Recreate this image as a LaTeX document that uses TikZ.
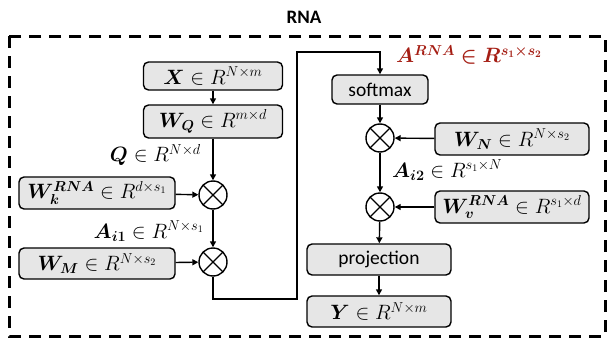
\documentclass[tikz,border=0pt]{standalone}
\usepackage{fontspec}
\usepackage{amsmath,bm}
\setmainfont{Carlito}
\usetikzlibrary{arrows.meta}
\definecolor{boxgray}{RGB}{230,230,230}
\definecolor{rnared}{RGB}{165,30,20}
\tikzset{
  blk/.style={draw=black, line width=1.4pt, fill=boxgray, rounded corners=5pt,
    inner sep=0pt, align=center, font=\fontsize{20.5}{24}\selectfont},
  mul/.style={draw=black, line width=1.4pt, circle, minimum size=28pt, inner sep=0pt,
    path picture={\draw[line width=1.4pt] (path picture bounding box.north west) -- (path picture bounding box.south east)
      (path picture bounding box.north east) -- (path picture bounding box.south west);}},
  conn/.style={line width=1.4pt, -{Triangle[length=6pt,width=6pt]}},
  lbl/.style={font=\fontsize{19.5}{23}\selectfont, inner sep=0pt},
}
\begin{document}
\begin{tikzpicture}[x=1pt,y=-1pt]
\useasboundingbox (0,0) rectangle (608,348);
% outer frame and title
\node[font=\bfseries\fontsize{19}{23}\selectfont] (title) at (304,17) {RNA};
\draw[line width=3pt, dash pattern=on 12pt off 8pt] (9,36) rectangle (605,336);

% left column
\node[blk, minimum width=139pt, minimum height=28pt] (x) at (213,76) {$\bm{X}\in R^{N\times m}$};
\node[blk, minimum width=139pt, minimum height=33pt] (wq) at (213,121.5) {$\bm{W_Q}\in R^{m\times d}$};
\node[mul] (c1) at (213,195) {};
\node[mul] (c2) at (213,262) {};
\node[blk, minimum width=156pt, minimum height=32pt] (wk) at (97,193) {$\bm{W}_{\bm{k}}^{\bm{RNA}}\in R^{d\times s_1}$};
\node[blk, minimum width=156pt, minimum height=31pt] (wm) at (97,263.5) {$\bm{W_M}\in R^{N\times s_2}$};
\node[lbl, anchor=east] (q) at (201,155) {$\bm{Q}\in R^{N\times d}$};
\node[lbl, anchor=east] (ai1) at (204,231) {$\bm{A_{i1}}\in R^{N\times s_1}$};

% right column
\node[blk, minimum width=96pt, minimum height=29pt, font=\fontsize{19.5}{23}\selectfont] (sm) at (380,89.5) {softmax};
\node[mul] (c3) at (380,138) {};
\node[mul] (c4) at (380,207) {};
\node[blk, minimum width=154pt, minimum height=32pt] (wn) at (512,139) {$\bm{W_N}\in R^{N\times s_2}$};
\node[blk, minimum width=154pt, minimum height=32pt] (wv) at (512,207) {$\bm{W}_{\bm{v}}^{\bm{RNA}}\in R^{s_1\times d}$};
\node[blk, minimum width=144pt, minimum height=31pt, font=\fontsize{19.5}{23}\selectfont] (proj) at (379,259.5) {projection};
\node[blk, minimum width=144pt, minimum height=31pt] (y) at (379,311.5) {$\bm{Y}\in R^{N\times m}$};
\node[lbl, text=rnared, anchor=west] (arna) at (396,55) {$\bm{A^{RNA}\in R^{s_1\times s_2}}$};
\node[lbl, anchor=west] (ai2) at (392,170) {$\bm{A_{i2}}\in R^{s_1\times N}$};

% routing points of the long connector
\coordinate (r1) at (213,299);
\coordinate (r2) at (297,299);
\coordinate (r3) at (297,52);
\coordinate (r4) at (380,52);

% connectors
\draw[conn] (x) -- (wq);
\draw[conn] (wq) -- (c1);
\draw[conn] (wk) -- (c1);
\draw[conn] (c1) -- (c2);
\draw[conn] (wm) -- (c2);
\draw[conn] (c2.south) -- (r1) -- (r2) -- (r3) -- (r4) -- (sm.north);
\draw[conn] (sm) -- (c3);
\draw[conn] (wn) -- (c3);
\draw[conn] (c3) -- (c4);
\draw[conn] (wv) -- (c4);
\draw[conn] (c4) -- (proj);
\draw[conn] (proj) -- (y);
\end{tikzpicture}
\end{document}
